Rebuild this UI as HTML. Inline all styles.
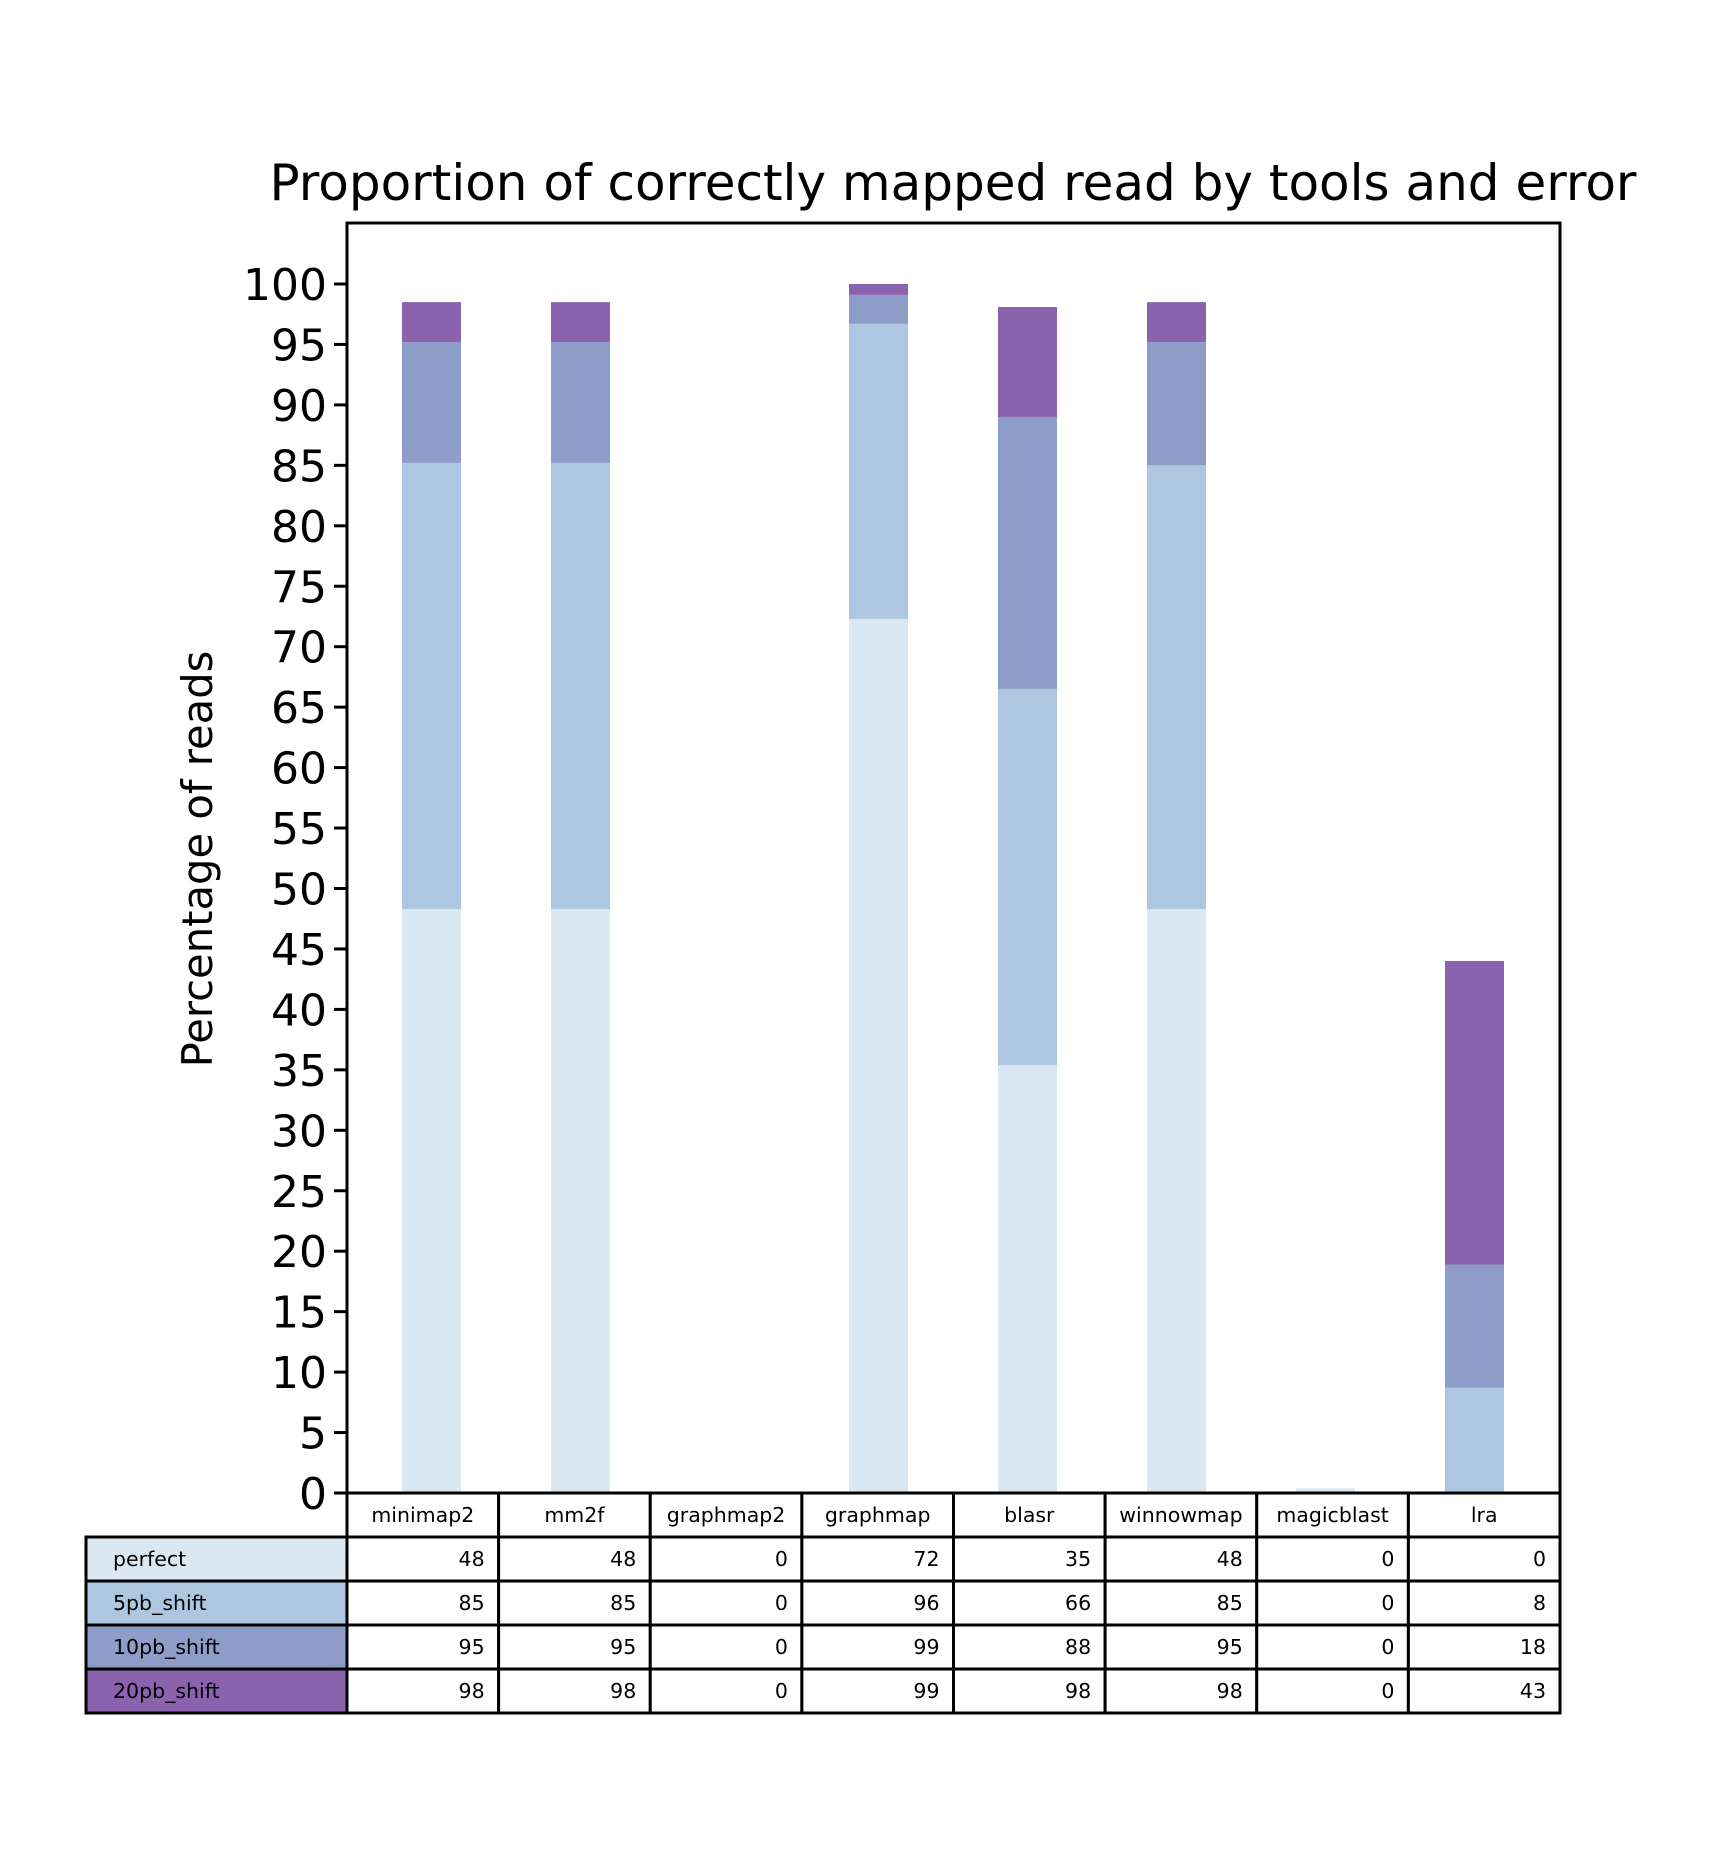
<!DOCTYPE html>
<html><head><meta charset="utf-8">
<style>
html,body{margin:0;padding:0;background:#fff;}
svg{display:block;font-family:"DejaVu Sans","Liberation Sans",sans-serif;}
</style></head>
<body>
<svg id="chart" width="1733" height="1866" viewBox="0 0 1733 1866" xmlns="http://www.w3.org/2000/svg">
<rect x="0" y="0" width="1733" height="1866" fill="#fff"/>
<text x="953" y="200" font-size="50" text-anchor="middle" fill="#000">Proportion of correctly mapped read by tools and error</text>
<text x="0" y="0" font-size="41.7" text-anchor="middle" fill="#000" transform="translate(212,859) rotate(-90)">Percentage of reads</text>
<g id="bars"></g>
<g id="yaxis"></g>
<rect x="347" y="223" width="1213" height="1270" fill="none" stroke="#000" stroke-width="3"/>
<g id="table"></g>
</svg>
<script>
const categories = ["minimap2","mm2f","graphmap2","graphmap","blasr","winnowmap","magicblast","lra"];
const seriesNames = ["perfect","5pb_shift","10pb_shift","20pb_shift"];
// cumulative heights as drawn
const perfect   = [48.3, 48.3, 0, 72.3, 35.4, 48.3, 0.4, 0];
const shift5    = [85.2, 85.2, 0, 96.7, 66.5, 85.0, 0.4, 8.7];
const shift10   = [95.2, 95.2, 0, 99.1, 89.0, 95.2, 0.4, 18.9];
const shift20   = [98.5, 98.5, 0, 100.0, 98.1, 98.5, 0.4, 44.0];
// table printed values
const tPerfect = [48,48,0,72,35,48,0,0];
const t5  = [85,85,0,96,66,85,0,8];
const t10 = [95,95,0,99,88,95,0,18];
const t20 = [98,98,0,99,98,98,0,43];
const yTicks = [0,5,10,15,20,25,30,35,40,45,50,55,60,65,70,75,80,85,90,95,100];

const colors = ["#dbe7f1","#adc7e0","#8e9dc8","#8b62ae"];
const NS = "http://www.w3.org/2000/svg";
const axL=347, axR=1560, y0px=1493, y100px=284;
const yScale = v => y0px - (y0px - y100px) * v / 100;
const xCenter = i => 431.5 + i * 149;
const barW = 59;
function mk(tag, attrs, parent){const e=document.createElementNS(NS,tag);for(const k in attrs)e.setAttribute(k,attrs[k]);parent.appendChild(e);return e;}

const bars = document.getElementById('bars');
const series = [perfect, shift5, shift10, shift20];
categories.forEach((c,i)=>{
  let prev = 0;
  series.forEach((s,k)=>{
    const top = s[i];
    if (top > prev) {
      const r = mk('rect',{x:xCenter(i)-barW/2,y:yScale(top),width:barW,height:yScale(prev)-yScale(top),fill:colors[k]},bars);
      
      
      prev = top;
    }
  });
});

const ya = document.getElementById('yaxis');
yTicks.forEach(t=>{
  const y = yScale(t);
  const l = mk('line',{x1:axL-13,x2:axL,y1:y,y2:y,stroke:'#000','stroke-width':3},ya);
  
  
  const tx = mk('text',{x:axL-20,y:y+16,'font-size':44,'text-anchor':'end',fill:'#000'},ya);
  tx.textContent = t;
  
  
});

const tb = document.getElementById('table');
const colW = (axR-axL)/8;
const rowsY = [1493,1537,1581,1625,1669,1713];
const labX = 86;
const tvals = [tPerfect,t5,t10,t20];
categories.forEach((c,i)=>{
  const x = axL + i*colW;
  mk('rect',{x:x,y:rowsY[0],width:colW,height:rowsY[1]-rowsY[0],fill:'#fff',stroke:'#000','stroke-width':3},tb);
  const t = mk('text',{x:x+colW/2,y:rowsY[0]+29,'font-size':20.5,'text-anchor':'middle',fill:'#000'},tb);
  t.textContent = c;
  
  
});
seriesNames.forEach((n,r)=>{
  const y = rowsY[r+1], h = rowsY[r+2]-y;
  const lr = mk('rect',{x:labX,y:y,width:axL-labX,height:h,fill:colors[r],stroke:'#000','stroke-width':3},tb);
  
  
  const lt = mk('text',{x:113,y:y+29,'font-size':20.5,fill:'#000'},tb);
  lt.textContent = n;
  
  
  categories.forEach((c,i)=>{
    const x = axL + i*colW;
    mk('rect',{x:x,y:y,width:colW,height:h,fill:'#fff',stroke:'#000','stroke-width':3},tb);
    const vt = mk('text',{x:x+colW-14,y:y+29,'font-size':20.5,'text-anchor':'end',fill:'#000'},tb);
    vt.textContent = tvals[r][i];
    
    
  });
});
</script>
</body></html>
